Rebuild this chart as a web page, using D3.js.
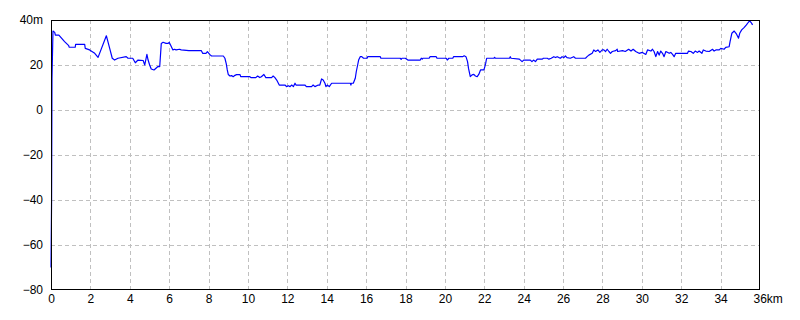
<!DOCTYPE html>
<html>
<head>
<meta charset="utf-8">
<script src="https://cdn.jsdelivr.net/npm/d3@7"></script>
<style>
  html, body { margin: 0; padding: 0; background: #fff; }
  svg { display: block; }
  text { font-family: "Liberation Sans", Arial, sans-serif; font-size: 12px; fill: #000; }
</style>
</head>
<body>
<svg id="chart" width="800" height="320"></svg>
<script>
// Distance along the route (km)
const distKm = [
  0.00, 0.03, 0.05, 0.10, 0.19, 0.22, 0.40, 0.69, 0.90, 0.92, 1.23, 1.25, 1.71, 1.74, 1.96, 2.22, 2.39,
  2.81, 2.89, 2.98, 3.11, 3.23, 3.40, 3.82, 3.91, 4.15, 4.28, 4.42, 4.68, 4.76, 4.87, 4.93, 5.01, 5.09,
  5.23, 5.43, 5.52, 5.60, 5.69, 5.84, 5.95, 6.00, 6.07, 6.19, 6.27, 6.35, 6.53, 6.61, 7.00, 7.63, 7.70,
  7.87, 7.94, 8.07, 8.15, 8.75, 8.83, 8.90, 8.95, 9.00, 9.09, 9.17, 9.25, 9.34, 9.42, 9.60, 9.63, 10.10,
  10.15, 10.40, 10.49, 10.60, 10.68, 10.81, 10.91, 11.20, 11.28, 11.37, 11.46, 11.59, 11.88, 11.96, 12.05,
  12.14, 12.22, 12.31, 12.39, 12.44, 12.89, 12.97, 13.23, 13.31, 13.40, 13.57, 13.65, 13.74, 13.82, 13.91,
  13.96, 14.03, 14.13, 14.25, 15.20, 15.23, 15.25, 15.35, 15.45, 15.50, 15.57, 15.62, 15.70, 15.78, 15.87,
  16.05, 16.08, 16.72, 16.75, 17.73, 17.78, 17.82, 17.99, 18.12, 18.75, 18.80, 18.85, 18.88, 19.20, 19.25,
  19.56, 19.60, 20.07, 20.12, 20.20, 20.40, 20.44, 20.90, 20.98, 21.07, 21.15, 21.20, 21.29, 21.38, 21.47,
  21.55, 21.64, 21.72, 21.81, 21.98, 22.03, 22.07, 22.12, 22.49, 22.52, 22.57, 23.28, 23.32, 23.36, 23.78,
  23.92, 24.00, 24.34, 24.42, 24.50, 24.60, 24.69, 24.95, 25.00, 25.20, 25.28, 25.40, 25.53, 25.62, 25.70,
  25.79, 25.87, 25.95, 26.04, 26.12, 26.20, 26.37, 26.54, 26.63, 27.14, 27.22, 27.31, 27.48, 27.56, 27.65,
  27.77, 27.87, 27.99, 28.07, 28.16, 28.24, 28.33, 28.41, 28.50, 28.67, 28.75, 28.77, 29.02, 29.16, 29.33,
  29.45, 29.56, 29.69, 29.86, 30.03, 30.20, 30.29, 30.46, 30.54, 30.62, 30.71, 30.80, 30.88, 30.96, 31.05,
  31.13, 31.22, 31.39, 31.47, 31.56, 31.64, 31.72, 32.32, 32.37, 32.49, 32.61, 32.71, 32.83, 32.91, 33.05,
  33.12, 33.25, 33.42, 33.59, 33.67, 33.76, 33.93, 34.01, 34.18, 34.26, 34.43, 34.48, 34.57, 34.69, 34.81,
  34.91, 34.97, 35.07, 35.19, 35.31, 35.41, 35.48, 35.58, 35.62
];
// Elevation (m)
const elevM = [
  -70, -40, 14, 35.1, 34.5, 33.3, 33.3, 30.4, 28.6, 27.9, 27.9, 29.2, 29.2, 27.4, 26.7, 25.2, 23.4,
  33.0, 30.4, 27.4, 23.0, 22.2, 23.0, 23.7, 23.0, 23.0, 21.0, 22.2, 22.0, 20.0, 24.7, 22.2, 20.0, 18.2,
  17.8, 19.3, 19.3, 29.6, 30.1, 29.6, 29.6, 30.1, 28.9, 26.7, 27.0, 26.7, 27.0, 26.7, 26.4, 26.4, 25.2,
  25.2, 25.9, 24.6, 24.0, 24.0, 23.0, 20.5, 17.8, 15.8, 15.1, 15.3, 14.8, 15.4, 15.7, 15.7, 14.8, 14.8,
  14.4, 14.4, 15.1, 14.4, 14.8, 15.8, 14.4, 14.4, 15.1, 14.4, 13.3, 11.1, 11.1, 10.4, 10.8,
  10.4, 11.1, 10.4, 11.9, 11.1, 11.1, 10.4, 10.4, 11.1, 10.4, 11.1, 11.1, 13.8, 13.3, 11.9,
  10.4, 11.1, 10.4, 11.9, 11.9, 11.1, 11.9, 11.9, 14.1, 17.0, 20.0, 22.2, 23.7, 23.7, 23.0,
  23.0, 23.7, 23.7, 23.0, 23.0, 22.5, 23.0, 23.0, 22.2, 22.2, 23.0, 22.6, 23.0, 23.0, 23.7,
  23.7, 23.0, 23.0, 22.2, 23.0, 23.0, 23.7, 23.7, 24.1, 23.7, 21.5, 18.5, 14.8, 15.6, 15.8,
  15.1, 14.8, 15.8, 17.8, 17.8, 19.3, 20.7, 23.0, 23.0, 23.4, 23.0, 23.0, 23.7, 23.0, 22.6,
  21.5, 22.2, 22.2, 21.5, 22.2, 21.5, 22.6, 22.6, 23.0, 23.0, 22.6, 23.0, 23.7, 23.3, 23.7,
  23.3, 23.0, 23.7, 23.3, 24.0, 23.3, 23.0, 23.7, 23.0, 23.0, 23.7, 24.4, 25.2, 26.7, 26.0,
  26.7, 25.6, 26.7, 26.7, 26.0, 27.0, 26.0, 25.2, 26.0, 26.4, 27.0, 26.0, 26.4, 26.0, 27.0,
  26.2, 27.0, 26.0, 25.2, 25.6, 24.7, 26.7, 26.2, 27.0, 26.0, 23.7, 26.0, 24.4, 26.2, 25.2,
  23.7, 26.0, 25.2, 25.6, 24.7, 23.7, 25.2, 25.2, 26.2, 26.0, 25.2, 26.2, 25.6, 26.2, 25.2,
  26.7, 26.2, 26.0, 27.0, 26.2, 26.7, 26.7, 27.4, 27.0, 27.8, 28.1, 30.4, 34.1, 35.1, 33.7,
  31.9, 34.1, 35.6, 36.6, 37.8, 39.0, 39.6, 38.5, 37.8
];
const xTicks = [0, 2, 4, 6, 8, 10, 12, 14, 16, 18, 20, 22, 24, 26, 28, 30, 32, 34, 36];
const yTicks = [-80, -60, -40, -20, 0, 20, 40];

(function () {
  const svg = d3.select("#chart");
  const pl = 51, pr = 760, pt = 20, pb = 290;
  const x = d3.scaleLinear().domain([0, 36]).range([pl, pr]);
  const y = d3.scaleLinear().domain([-80, 40]).range([pb, pt]);

  // grid
  const grid = svg.append("g").attr("stroke", "#c0c0c0").attr("stroke-dasharray", "4,3").attr("stroke-width", 1);
  grid.selectAll("line.v").data(xTicks.filter(d => d > 0 && d < 36)).enter().append("line")
    .attr("class", "v")
    .attr("x1", d => Math.round(x(d)) + 0.5).attr("x2", d => Math.round(x(d)) + 0.5)
    .attr("y1", pt).attr("y2", pb);
  grid.selectAll("line.h").data(yTicks.filter(d => d > -80 && d < 40)).enter().append("line")
    .attr("class", "h")
    .attr("y1", d => Math.round(y(d)) + 0.5).attr("y2", d => Math.round(y(d)) + 0.5)
    .attr("x1", pl).attr("x2", pr);

  // data line
  const line = d3.line().x((d, i) => x(distKm[i])).y(d => y(d));
  svg.append("path").datum(elevM)
    .attr("fill", "none").attr("stroke", "#0000ff").attr("stroke-width", 1.2)
    .attr("stroke-linejoin", "round")
    .attr("d", line);

  // frame
  svg.append("rect").attr("x", pl + 0.5).attr("y", pt + 0.5)
    .attr("width", pr - pl - 1).attr("height", pb - pt - 1)
    .attr("fill", "none").attr("stroke", "#000").attr("stroke-width", 1);

  // axes (labels only)
  const yAxis = d3.axisLeft(y).tickValues(yTicks).tickSize(0).tickPadding(7)
    .tickFormat(d => d === 40 ? "40m" : d3.format("d")(d).replace("-", "\u2212"));
  const gy = svg.append("g").attr("transform", `translate(${pl - 1},0)`).call(yAxis);
  gy.select(".domain").remove();
  gy.selectAll("text").style("font-family", '"Liberation Sans", Arial, sans-serif').style("font-size", "12px");

  const xAxis = d3.axisBottom(x).tickValues(xTicks).tickSize(0).tickPadding(4)
    .tickFormat(d => d === 36 ? "36km" : String(d));
  const gx = svg.append("g").attr("transform", `translate(0,${pb})`).call(xAxis);
  gx.select(".domain").remove();
  gx.selectAll("text").style("font-family", '"Liberation Sans", Arial, sans-serif').style("font-size", "12px");
  gx.selectAll(".tick").filter(d => d === 36).select("text")
    .attr("text-anchor", "start").attr("x", -7);
})();
</script>
</body>
</html>
